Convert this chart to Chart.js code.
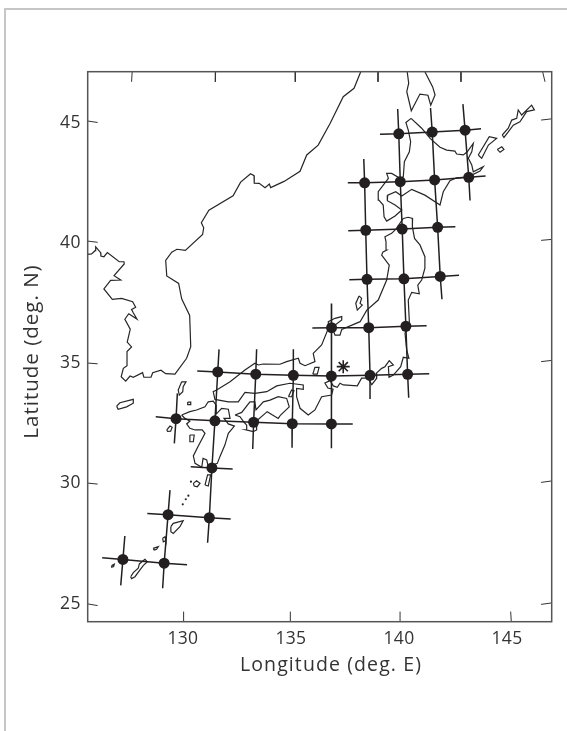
<!DOCTYPE html>
<html>
<head>
<meta charset="utf-8">
<title>Station grid over Japan</title>
<script src="https://cdn.jsdelivr.net/npm/chart.js@4"></script>
<style>
  html, body { margin: 0; padding: 0; background: #fff; overflow: hidden; }
  #frame { position: absolute; left: 4px; top: 8px; width: 600px; height: 800px; border-top: 2px solid #c6c6c6; border-left: 2px solid #c6c6c6; }
  #chart { position: absolute; left: 0; top: 0; }
</style>
</head>
<body>
<div id="frame"></div>
<canvas id="chart" width="567" height="731"></canvas>
<script>
// axis ticks and titles
const lonTicks = [130, 135, 140, 145];
const latTicks = [25, 30, 35, 40, 45];
const lonTitle = 'Longitude (deg. E)';
const latTitle = 'Latitude (deg. N)';

// observation stations [lon, lat]
const stations = [
  [139.99,44.47],[141.54,44.54],[143.06,44.62],
  [138.41,42.43],[140.06,42.48],[141.65,42.55],[143.23,42.66],
  [138.46,40.46],[140.15,40.51],[141.79,40.58],
  [138.52,38.42],[140.23,38.44],[141.91,38.54],
  [136.88,36.41],[138.60,36.41],[140.32,36.47],
  [131.61,34.57],[133.37,34.48],[135.11,34.43],[136.87,34.40],[138.66,34.43],[140.40,34.47],
  [129.68,32.63],[131.48,32.54],[133.27,32.48],[135.06,32.42],[136.87,32.41],
  [131.34,30.58],
  [129.31,28.64],[131.22,28.51],
  [127.22,26.78],[129.13,26.62]
];
const source = [[137.42,34.79]];

// grid lines through the stations
const gridRows = [
  [[139.12,44.45],[139.99,44.47],[141.54,44.54],[143.06,44.62],[143.80,44.68]],
  [[137.63,42.43],[138.41,42.43],[140.06,42.48],[141.65,42.55],[143.23,42.66],[144.01,42.71]],
  [[137.65,40.44],[138.46,40.46],[140.15,40.51],[141.79,40.58],[142.61,40.61]],
  [[137.70,38.40],[138.52,38.42],[140.23,38.44],[141.91,38.54],[142.78,38.59]],
  [[135.99,36.40],[136.88,36.41],[138.60,36.41],[140.32,36.47],[141.28,36.49]],
  [[130.66,34.61],[131.61,34.57],[133.37,34.48],[135.11,34.43],[136.87,34.40],[138.66,34.43],[140.40,34.47],[141.40,34.50]],
  [[128.74,32.71],[129.68,32.63],[131.48,32.54],[133.27,32.48],[135.06,32.42],[136.87,32.41],[137.86,32.41]],
  [[130.36,30.63],[131.34,30.58],[132.30,30.54]],
  [[128.35,28.69],[129.31,28.64],[131.22,28.51],[132.21,28.46]],
  [[126.26,26.85],[127.22,26.78],[129.13,26.62],[130.19,26.56]]
];
const gridCols = [
  [[127.31,27.75],[127.22,26.78],[127.12,25.70]],
  [[129.40,29.66],[129.31,28.64],[129.13,26.62],[129.06,25.58]],
  [[129.74,33.68],[129.68,32.63],[129.60,31.60]],
  [[131.67,35.51],[131.61,34.57],[131.48,32.54],[131.34,30.58],[131.22,28.51],[131.14,27.47]],
  [[133.41,35.51],[133.37,34.48],[133.27,32.48],[133.23,31.37]],
  [[135.11,35.51],[135.11,34.43],[135.06,32.42],[135.05,31.42]],
  [[136.88,37.42],[136.88,36.41],[136.87,34.40],[136.87,32.41],[136.87,31.40]],
  [[138.37,43.42],[138.41,42.43],[138.46,40.46],[138.52,38.42],[138.60,36.41],[138.66,34.43],[138.66,33.45]],
  [[139.94,45.50],[139.99,44.47],[140.06,42.48],[140.15,40.51],[140.23,38.44],[140.32,36.47],[140.40,34.47],[140.45,33.50]],
  [[141.46,45.54],[141.54,44.54],[141.65,42.55],[141.79,40.58],[141.91,38.54],[141.99,37.59]],
  [[142.96,45.70],[143.06,44.62],[143.23,42.66],[143.29,41.70]]
];

// graticule tick marks on the frame (the map projection slants them)
const frameTicks = [
  [[127.65,47.05],[127.62,46.63]],[[131.51,47.05],[131.50,46.63]],[[135.20,47.05],[135.20,46.63]],
  [[139.03,47.05],[139.03,46.63]],[[142.87,47.05],[142.87,46.63]],[[146.65,47.05],[146.76,46.63]],
  [[130.02,24.19],[130.03,24.61]],[[134.97,24.19],[134.97,24.61]],[[140.05,24.19],[140.05,24.61]],[[145.20,24.19],[145.17,24.61]],
  [[125.59,45.00],[126.05,44.94]],[[125.59,40.01],[126.05,39.96]],[[125.59,34.94],[126.05,34.91]],[[125.59,29.95],[126.05,29.91]],[[125.59,24.93],[126.05,24.86]],
  [[147.07,45.09],[146.58,45.04]],[[147.07,40.08],[146.58,40.04]],[[147.07,35.05],[146.58,35.00]],[[147.07,30.04],[146.58,29.98]],[[147.07,24.97],[146.58,24.91]]
];

// open coastlines
const coastMainland = [
  [125.59,39.46],[125.77,39.48],[125.93,39.61],[125.96,39.77],[126.19,39.53],[126.20,39.39],[126.34,39.36],[126.50,39.53],
  [127.05,39.15],[127.27,39.15],[127.28,39.06],[126.81,38.57],[127.12,38.39],[126.65,38.38],[126.34,38.02],[126.73,37.59],
  [127.16,37.63],[127.67,37.49],[127.81,37.26],[127.62,37.17],[127.70,37.03],[127.87,36.77],[127.49,36.99],[127.31,36.76],
  [127.56,36.35],[127.42,35.81],[127.62,35.61],[127.41,35.42],[127.41,34.83],[127.24,34.72],[127.14,34.37],[127.35,34.19],
  [127.55,34.40],[127.70,34.35],[128.13,34.54],[128.19,34.35],[128.52,34.35],[128.60,34.54],[128.98,34.64],[129.20,34.50],
  [129.63,34.48],[130.17,35.14],[130.36,35.62],[130.31,36.92],[129.94,37.61],[129.80,38.25],[129.25,38.56],[129.20,39.21],
  [129.48,39.55],[129.72,39.67],[130.11,39.62],[130.91,40.29],[130.96,40.56],[130.85,40.77],[131.20,41.29],[132.32,41.89],
  [132.67,42.46],[133.13,42.81],[133.29,42.73],[133.30,42.42],[133.53,42.41],[133.80,42.23],[134.00,42.38],[134.06,42.23],
  [134.68,42.49],[135.42,42.91],[135.73,43.59],[136.26,44.00],[136.81,44.90],[137.42,46.01],[137.92,46.36],[138.23,47.05]
];
const coastSakhalin = [
  [140.38,47.05],[140.45,46.57],[140.36,46.22],[140.57,45.43],[140.97,46.12],[141.34,46.07],[141.47,45.66],[141.67,46.08],[141.56,46.42],[141.20,47.05]
];

// closed coastlines, larger islands
const coastHokkaido = [
  [140.56,45.11],[141.05,44.70],[141.44,44.28],[141.90,43.91],[142.21,43.79],[142.59,43.75],[142.67,43.63],[142.98,43.59],
  [143.16,43.72],[143.44,44.07],[143.37,43.72],[143.21,43.45],[143.37,43.17],[143.44,42.89],[143.90,43.10],[143.75,42.92],
  [143.21,42.68],[142.67,42.64],[142.36,42.52],[142.05,42.06],[141.90,41.51],[141.20,41.92],[140.59,42.16],[140.13,41.88],
  [139.85,42.06],[139.48,41.92],[139.46,41.69],[139.82,41.51],[140.13,41.30],[139.82,41.05],[139.43,40.84],[139.31,41.02],
  [139.27,41.51],[139.07,41.71],[139.04,42.06],[139.51,42.62],[139.43,42.82],[139.66,42.82],[140.05,42.62],[140.20,42.68],
  [140.25,43.31],[140.48,43.72],[140.54,44.14],[140.43,44.62],[140.32,44.94]
];
const coastHonshu = [
  [140.20,40.95],[140.42,41.00],[140.63,40.95],[140.62,40.61],[140.72,40.12],[140.97,39.85],[141.20,39.36],[141.20,38.88],
  [141.05,38.39],[140.87,38.18],[140.94,37.82],[140.59,37.88],[140.43,37.56],[140.48,36.66],[140.28,36.18],[140.36,35.48],
  [140.46,35.14],[140.20,35.18],[140.08,34.79],[139.74,34.44],[139.54,34.35],[139.51,34.79],[139.74,34.86],[139.55,35.04],
  [139.35,34.79],[139.20,34.72],[138.94,34.51],[138.97,34.31],[138.74,34.04],[138.57,34.31],[138.27,34.31],[138.07,33.99],
  [137.42,34.03],[137.27,34.10],[137.14,33.93],[136.96,33.99],[136.81,34.21],[136.57,34.11],[136.71,33.90],[136.95,33.85],
  [136.88,33.61],[136.42,33.54],[136.11,32.99],[135.80,32.78],[135.42,33.06],[135.26,33.54],[135.26,33.89],[135.57,33.85],
  [135.57,34.03],[134.95,34.10],[134.34,33.99],[133.88,33.75],[133.33,33.68],[132.87,33.72],[132.56,33.33],[132.10,33.33],
  [131.48,33.43],[131.40,33.75],[131.56,33.82],[132.18,34.16],[132.87,34.65],[133.33,34.93],[133.49,34.86],[133.72,34.90],
  [134.49,34.89],[134.80,35.00],[135.34,35.14],[135.42,34.93],[135.65,34.83],[136.11,35.00],[136.03,35.34],[136.42,35.69],
  [136.73,36.38],[136.73,36.66],[137.04,36.80],[137.35,36.87],[137.35,36.73],[137.04,36.52],[136.95,36.31],[137.04,36.10],
  [137.27,36.10],[137.35,36.34],[138.20,36.66],[138.51,37.14],[139.04,37.56],[139.43,38.39],[139.55,39.01],[139.20,39.43],
  [139.25,39.55],[139.43,39.64],[139.40,39.98],[139.35,40.19],[139.66,40.33],[139.86,40.51]
];
const coastShikoku = [
  [132.41,32.78],[132.72,32.89],[133.10,33.33],[133.33,33.33],[133.38,32.99],[133.72,33.33],[134.03,33.40],[134.41,33.54],
  [134.80,33.47],[134.92,33.12],[134.52,32.78],[134.41,32.64],[133.90,32.92],[133.49,32.60],[133.41,32.36],[133.41,32.16],
  [133.25,32.09],[132.92,32.16],[132.95,32.36],[132.82,32.49],[132.64,32.71]
];
const coastKyushu = [
  [129.94,32.78],[130.32,32.92],[130.63,32.99],[131.02,33.12],[131.17,33.33],[131.40,33.36],[131.53,33.20],[131.54,32.82],
  [131.79,33.06],[132.10,33.02],[132.18,32.64],[131.90,32.64],[132.10,32.41],[132.38,32.32],[132.10,32.02],[131.94,31.53],
  [131.71,31.05],[131.59,30.77],[131.17,30.63],[131.10,30.91],[130.93,30.98],[130.87,30.61],[130.56,30.77],[130.48,31.08],
  [130.71,31.49],[131.02,32.02],[130.89,32.16],[130.56,32.16],[130.32,32.23],[130.17,32.41],[130.32,32.53],[130.09,32.64]
];

// closed coastlines, small islands
const smallIslands = [
  [[130.32,31.95],[130.52,31.95],[130.48,31.67],[130.32,31.67]],
  [[129.94,34.16],[130.14,34.16],[130.01,33.96],[129.99,33.75],[129.83,33.61],[129.78,33.82]],
  [[130.22,33.32],[130.36,33.32],[130.36,33.21],[130.22,33.21]],
  [[126.93,33.15],[127.08,33.29],[127.70,33.43],[127.70,33.27],[127.39,33.12],[127.00,33.02]],
  [[129.25,32.16],[129.40,32.32],[129.50,32.27],[129.43,32.11],[129.29,32.10]],
  [[130.48,29.94],[130.63,30.05],[130.79,29.94],[130.66,29.80],[130.52,29.83]],
  [[131.02,29.87],[131.14,30.29],[131.28,30.29],[131.17,29.83]],
  [[129.44,28.14],[129.55,28.28],[130.01,28.39],[129.86,28.14],[129.55,27.86],[129.44,27.93]],
  [[129.06,27.66],[129.17,27.72],[129.21,27.56],[129.09,27.51]],
  [[128.62,27.24],[128.86,27.31],[128.78,27.20],[128.67,27.17]],
  [[127.58,26.06],[127.70,26.23],[127.93,26.41],[127.98,26.59],[128.24,26.78],[128.35,26.68],[128.16,26.52],[128.01,26.34],[127.78,26.06],[127.62,25.98]],
  [[126.70,26.52],[126.82,26.58],[126.79,26.48],[126.71,26.46]],
  [[143.67,43.59],[144.18,44.35],[144.52,44.28],[144.14,44.00],[143.83,43.45]],
  [[144.78,44.42],[145.06,44.70],[145.22,45.04],[145.45,45.11],[145.52,45.46],[145.68,45.25],[146.14,45.66],[146.27,45.46],[145.91,45.39],[145.60,44.97],[145.29,44.83],[145.06,44.55],[144.86,44.32]],
  [[144.55,43.82],[144.76,43.93],[144.86,43.82],[144.68,43.70]],
  [[136.01,34.48],[136.11,34.76],[136.30,34.76],[136.22,34.48]],
  [[138.15,37.73],[138.27,37.63],[138.20,37.42],[138.30,37.35],[138.07,37.14],[138.00,37.42]],
  [[134.88,33.54],[135.03,33.82],[135.14,33.79],[135.03,33.54]]
];
const islandSpecks = [[130.37,30.01],[130.25,29.43],[130.13,29.28],[129.99,29.07]];

const toXY = list => list.map(p => ({ x: p[0], y: p[1] }));
const lineSet = (list, color, width) => ({
  type: 'line', data: toXY(list), borderColor: color, borderWidth: width,
  pointRadius: 0, tension: 0, fill: false
});
const closed = list => list.concat([list[0]]);

const INK = '#231f20';
const COAST = '#262626';
const AXIS = '#555555';
const TEXT = '#333333';

// the chart draws the first dataset on top
const datasets = [
  { type: 'scatter', data: toXY(stations), pointRadius: 5.5, pointBackgroundColor: INK, pointBorderWidth: 0 },
  { type: 'scatter', data: toXY(source), pointStyle: 'star', pointRadius: 6.5, pointBorderColor: INK, pointBorderWidth: 1.6 },
  { type: 'scatter', data: toXY(islandSpecks), pointRadius: 1.1, pointBackgroundColor: COAST, pointBorderWidth: 0 }
];
gridRows.concat(gridCols).forEach(l => datasets.push(lineSet(l, INK, 1.5)));
frameTicks.forEach(l => datasets.push(lineSet(l, '#333333', 1)));
[coastMainland, coastSakhalin].forEach(l => datasets.push(lineSet(l, COAST, 1.2)));
[coastHokkaido, coastHonshu, coastShikoku, coastKyushu].concat(smallIslands)
  .forEach(l => datasets.push(lineSet(closed(l), COAST, 1.2)));

const frameBorder = {
  id: 'frameBorder',
  beforeDraw(chart) {
    chart.ctx.letterSpacing = '0.3px';
  },
  afterDraw(chart) {
    const { ctx, chartArea: a } = chart;
    ctx.save();
    ctx.strokeStyle = AXIS;
    ctx.lineWidth = 1.5;
    ctx.strokeRect(a.left, a.top, a.right - a.left, a.bottom - a.top);
    // axis titles sit off centre from the frame, so they are placed here
    ctx.fillStyle = TEXT;
    ctx.textAlign = 'center';
    ctx.textBaseline = 'middle';
    ctx.font = '19.5px "Open Sans", sans-serif';
    ctx.letterSpacing = '1.1px';
    ctx.fillText(lonTitle, 331, 665);
    ctx.translate(32, 351.5);
    ctx.rotate(-Math.PI / 2);
    ctx.font = '20.5px "Open Sans", sans-serif';
    ctx.letterSpacing = '1px';
    ctx.fillText(latTitle, 0, 0);
    ctx.restore();
  }
};

new Chart(document.getElementById('chart'), {
  data: { datasets },
  plugins: [frameBorder],
  options: {
    responsive: false,
    animation: false,
    events: [],
    layout: { padding: { left: 0, top: 71.7, right: 15.3, bottom: 0 } },
    plugins: { legend: { display: false }, tooltip: { enabled: false } },
    scales: {
      x: {
        type: 'linear', min: 125.59, max: 147.07,
        grid: { display: false, drawTicks: false }, border: { display: false },
        afterBuildTicks: s => { s.ticks = lonTicks.map(v => ({ value: v })); },
        afterFit: s => { s.height = 731 - 621.7; },
        ticks: { color: TEXT, padding: 7, maxRotation: 0, autoSkip: false, callback: v => String(v), font: { family: '"Open Sans", sans-serif', size: 17.5 } }
      },
      y: {
        type: 'linear', min: 24.19, max: 47.05,
        grid: { display: false, drawTicks: false }, border: { display: false },
        afterBuildTicks: s => { s.ticks = latTicks.map(v => ({ value: v })); },
        afterFit: s => { s.width = 87.7; },
        ticks: { color: TEXT, padding: 7, labelOffset: 1.5, autoSkip: false, callback: v => String(v), font: { family: '"Open Sans", sans-serif', size: 17.5 } }
      }
    }
  }
});
</script>
</body>
</html>
